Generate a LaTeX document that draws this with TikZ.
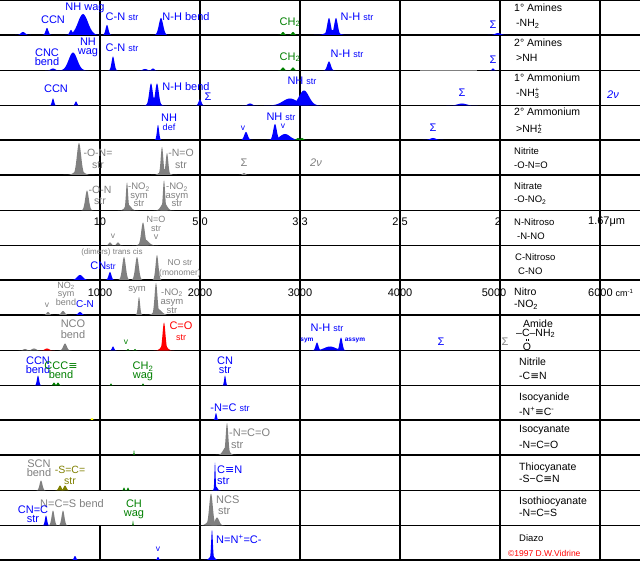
\documentclass[tikz,border=0pt]{standalone}
\usepackage{fontspec}
\setmainfont{Liberation Sans}
\newfontfamily\djv{DejaVu Sans}
\definecolor{dgreen}{RGB}{0,128,0}
\definecolor{olv}{RGB}{128,128,0}
\definecolor{gry}{RGB}{128,128,128}
\definecolor{ylw}{RGB}{255,255,0}
\newcommand\pk[5]{\fill[#5] plot[domain={#1-2.6*#4}:{#1+2.6*#4},samples=31] (\x,{#2-#3*exp(-((\x-#1)/#4)*((\x-#1)/#4))}) -- cycle;}
\newcommand\eqv{{\djv ≡}}
\begin{document}
\begin{tikzpicture}[x=1pt,y=-1pt,
  grid/.style={line width=1.5pt,black},
  lab/.style={inner sep=0pt,font=\fontsize{11}{9}\selectfont,align=center},
  smf/.style={inner sep=0pt,font=\fontsize{8.5}{8.5}\selectfont,align=center},
  tiny/.style={inner sep=0pt,font=\bfseries\fontsize{6.5}{6.5}\selectfont},
  rowl/.style={inner sep=0pt,font=\fontsize{10.5}{10.5}\selectfont,anchor=west},
  rown/.style={inner sep=0pt,font=\fontsize{9.5}{9.5}\selectfont,anchor=west},
  axl/.style={inner sep=0pt,font=\fontsize{11}{11}\selectfont}]
\useasboundingbox (0,0) rectangle (640,561);
\fill[white] (0,0) rectangle (640,561);
% horizontal grid lines
\foreach \yy in {0.75,35,70.5,105.5,140,175,210.5,245.5,280,315,350.5,385.5,420,455,490.5,525.5,560}
  \draw[grid] (0,\yy) -- (640,\yy);
\draw[line width=1.5pt,gry] (420,70.5) -- (477,70.5);
% vertical grid lines
\draw[grid] (100,0) -- (100,490.5) (100,525.5) -- (100,561);
\foreach \xx in {200,300,400,500,600}
  \draw[grid] (\xx,0) -- (\xx,561);
% ---- Row 1: 1 Amines
\pk{23}{35}{3}{3}{blue}
\pk{47}{35}{7}{2}{blue}
\pk{83}{35}{21}{7}{blue}
\pk{71}{35}{5}{2}{blue}
\pk{107}{35}{10}{2}{blue}
\pk{161}{35}{17}{3}{blue}
\pk{283}{35}{3}{2}{dgreen}
\pk{293}{35}{3}{2}{dgreen}
\pk{329}{35}{17}{2.5}{blue}
\pk{336}{35}{17}{2.5}{blue}
\pk{332}{35}{5}{7}{blue}
\pk{498}{35}{2}{4}{blue}
% ---- Row 2
\pk{53}{70.5}{2}{3}{blue}
\pk{73}{70.5}{18}{6}{blue}
\pk{113}{70.5}{14}{2}{blue}
\pk{145}{70.5}{1.5}{3}{blue}
\pk{153}{70.5}{2}{2}{blue}
\pk{283}{70.5}{3}{2}{dgreen}
\pk{293}{70.5}{3}{2}{dgreen}
\pk{329}{70.5}{9}{2.5}{blue}
\pk{493}{70.5}{2}{1.5}{blue}
% ---- Row 3
\pk{53}{105.5}{7}{1.5}{blue}
\pk{76}{105.5}{4}{1.5}{blue}
\pk{151}{105.5}{22}{2.5}{blue}
\pk{157}{105.5}{22}{2.5}{blue}
\pk{154}{105.5}{8}{5}{blue}
\pk{200}{105.5}{6}{2}{blue}
\pk{250}{105.5}{2}{3}{blue}
\pk{304}{105.5}{15}{7}{blue}
\pk{290}{105.5}{7}{10}{blue}
\pk{462}{105.5}{2}{6}{blue}
% ---- Row 4
\pk{158}{140}{15}{1.5}{blue}
\pk{246}{140}{8}{2.5}{blue}
\pk{275}{140}{16}{2.5}{blue}
\pk{285}{140}{6}{7}{blue}
\pk{298}{140}{2}{2}{dgreen}
\pk{302}{140}{2}{2}{dgreen}
\pk{433}{140}{2}{4}{blue}
% ---- Row 5 Nitrite
\pk{79}{175}{32}{3}{gry}
\pk{79}{175}{5}{6}{gry}
\pk{162}{175}{28}{1.8}{gry}
\pk{167}{175}{22}{1.8}{gry}
\pk{164}{175}{6}{5}{gry}
\pk{244}{175}{2}{2}{gry}
% ---- Row 6 Nitrate
\pk{87}{210.5}{20}{2.5}{gry}
\pk{127}{210.5}{28}{1.5}{gry}
\pk{128}{210.5}{6}{4}{gry}
\pk{164}{210.5}{30}{1.5}{gry}
\pk{164}{210.5}{8}{4}{gry}
% ---- Row 7 N-Nitroso
\pk{110}{245.5}{3}{2}{gry}
\pk{118}{245.5}{3}{2}{gry}
\pk{143}{245.5}{23}{2.5}{gry}
\pk{145}{245.5}{6}{5}{gry}
% ---- Row 8 C-Nitroso
\pk{80}{280}{5}{4}{blue}
\pk{110}{280}{8}{2}{blue}
\pk{124}{280}{23}{2.5}{gry}
\pk{137}{280}{23}{2.5}{gry}
\pk{157}{280}{25}{2}{gry}
% ---- Row 9 Nitro
\pk{48}{315}{3}{2}{gry}
\pk{63}{315}{4}{2.5}{gry}
\pk{80}{315}{3}{2.5}{blue}
\pk{139}{315}{18}{1.5}{gry}
\pk{156}{315}{32}{2}{gry}
\pk{158}{315}{6}{5}{gry}
% ---- Row 10 Amide
\pk{25}{350.5}{1.5}{2.5}{gry}
\pk{34}{350.5}{2}{3}{gry}
\pk{47}{350.5}{2}{3}{red}
\pk{65}{350.5}{7}{2.5}{gry}
\pk{113}{350.5}{4}{1.5}{blue}
\pk{128}{350.5}{1.5}{1}{dgreen}
\pk{135}{350.5}{1.5}{1}{dgreen}
\pk{164}{350.5}{28}{2}{red}
\pk{164}{350.5}{6}{4}{red}
\pk{317}{350.5}{8}{2}{blue}
\pk{341}{350.5}{13}{2}{blue}
\pk{330}{350.5}{4}{8}{blue}
% ---- Row 11 Nitrile
\pk{38}{385.5}{10}{1.5}{blue}
\pk{54}{385.5}{3}{1.5}{dgreen}
\pk{58}{385.5}{3}{1.5}{dgreen}
\pk{111}{385.5}{2}{1}{dgreen}
\pk{143}{385.5}{2}{1}{dgreen}
\pk{225}{385.5}{10}{1.2}{blue}
% ---- Row 12 Isocyanide
\pk{92}{420}{2}{1}{ylw}
\pk{216}{420}{7}{1.2}{blue}
% ---- Row 13 Isocyanate
\pk{134}{455}{5}{0.5}{dgreen}
\pk{227}{455}{32}{1.8}{gry}
\pk{226}{455}{8}{4}{gry}
% ---- Row 14 Thiocyanate
\pk{41}{490.5}{10}{2}{gry}
\pk{60}{490.5}{5}{2}{olv}
\pk{65}{490.5}{5}{2}{olv}
\pk{124}{490.5}{3}{1}{dgreen}
\pk{128}{490.5}{3}{1}{dgreen}
\pk{215}{490.5}{28}{0.8}{blue}
\pk{216}{490.5}{4}{2}{blue}
% ---- Row 15 Isothiocyanate
\pk{46}{525.5}{10}{1.5}{blue}
\pk{53}{525.5}{15}{2}{gry}
\pk{63}{525.5}{15}{2}{gry}
\pk{133}{525.5}{5}{0.5}{dgreen}
\pk{211}{525.5}{32}{2.5}{gry}
\pk{217}{525.5}{8}{3}{gry}
\pk{211}{525.5}{6}{5}{gry}
% ---- Row 16 Diazo
\pk{75}{560}{4}{1.5}{blue}
\pk{158}{560}{3}{1.2}{blue}
\pk{212}{560}{30}{1.2}{blue}
\pk{212}{560}{5}{3}{blue}
% ================= LABELS
% Row 1
\node[lab,text=blue] (r1a) at (53,20) {CCN};
\node[lab,text=blue] (r1b) at (85,8) {NH wag};
\node[lab,text=blue] (r1c) at (122,17) {C-N {\fontsize{9}{9}\selectfont str}};
\node[lab,text=blue] (r1d) at (186,17) {N-H bend};
\node[lab,text=dgreen] (r1e) at (290,22) {CH\textsubscript{2}};
\node[lab,text=blue] (r1f) at (357,17) {N-H {\fontsize{9}{9}\selectfont str}};
\node[lab,text=blue] (r1g) at (493,25) {Σ};
\node[rowl] (r1h) at (514,7.5) {1° Amines};
\node[rowl] (r1i) at (516,24) {-NH\textsubscript{2}};
% Row 2
\node[lab,text=blue] (r2a) at (47,57.5) {CNC\\bend};
\node[lab,text=blue] (r2b) at (88,47.5) {NH\\wag};
\node[lab,text=blue] (r2c) at (122,48) {C-N {\fontsize{9}{9}\selectfont str}};
\node[lab,text=dgreen] (r2d) at (290,57) {CH\textsubscript{2}};
\node[lab,text=blue] (r2e) at (347,54) {N-H {\fontsize{9}{9}\selectfont str}};
\node[lab,text=blue] (r2f) at (493,60) {Σ};
\node[rowl] (r2g) at (514,42.5) {2° Amines};
\node[rowl] (r2h) at (516,58) {>NH};
% Row 3
\node[lab,text=blue] (r3a) at (56,89) {CCN};
\node[lab,text=blue] (r3b) at (186,87) {N-H bend};
\node[lab,text=blue] (r3c) at (208,97) {Σ};
\node[lab,text=blue] (r3d) at (302,81) {NH {\fontsize{9}{9}\selectfont str}};
\node[lab,text=blue] (r3e) at (462,93) {Σ};
\node[lab,text=blue] (r3f) at (613,95) {\textit{2ν}};
\node[rowl] (r3g) at (514,78) {1° Ammonium};
\node[rowl] (r3h) at (516,93.5) {-NH\rlap{\textsuperscript{+}}\textsubscript{3}};
% Row 4
\node[lab,text=blue] (r4a) at (169,122) {NH\\{\fontsize{9}{9}\selectfont def}};
\node[smf,text=blue] (r4b) at (243,128) {v};
\node[lab,text=blue] (r4c) at (281,117) {NH {\fontsize{9}{9}\selectfont str}};
\node[smf,text=blue] (r4d) at (283,126) {v};
\node[lab,text=blue] (r4e) at (433,128) {Σ};
\node[rowl] (r4f) at (514,112) {2° Ammonium};
\node[rowl] (r4g) at (516,129) {>NH\rlap{\textsuperscript{+}}\textsubscript{2}};
% Row 5
\node[lab,text=gry,font=\fontsize{10.5}{12}\selectfont] (r5a) at (98,159) {-O-N=\\str};
\node[lab,text=gry,font=\fontsize{10.5}{12}\selectfont] (r5b) at (181,159) {-N=O\\str};
\node[lab,text=gry] (r5c) at (244,163) {Σ};
\node[lab,text=gry] (r5d) at (316,163) {\textit{2ν}};
\node[rown] (r5e) at (514,151) {Nitrite};
\node[rown] (r5f) at (514,165) {-O-N=O};
% Row 6
\node[lab,text=gry,font=\fontsize{10.5}{11}\selectfont] (r6a) at (100,195.5) {-O-N\\str};
\node[lab,text=gry,font=\fontsize{9.5}{8.6}\selectfont] (r6b) at (139,195) {-NO\textsubscript{2}\\sym\\str};
\node[lab,text=gry,font=\fontsize{9.5}{8.6}\selectfont] (r6c) at (177,195) {-NO\textsubscript{2}\\asym\\str};
\node[rown] (r6d) at (514,186) {Nitrate};
\node[rown] (r6e) at (514,200) {-O-NO\textsubscript{2}};
% Row 7
\node[axl] (r7a) at (100,222) {10};
\node[axl] (r7b) at (200,222) {5.0};
\node[axl] (r7c) at (300,222) {3.3};
\node[axl] (r7d) at (400,222) {2.5};
\node[axl] (r7e) at (498,222) {2};
\node[axl,anchor=west] (r7f) at (588,222) {1.67μm};
\node[smf,text=gry] (r7g) at (113,236) {v};
\node[lab,text=gry,font=\fontsize{9}{8.6}\selectfont] (r7h) at (156,228) {N=O\\str\\v};
\node[rown] (r7i) at (514,222) {N-Nitroso};
\node[rown] (r7j) at (517,236) {-N-NO};
% Row 8
\node[smf,text=gry,font=\fontsize{8}{8}\selectfont] (r8a) at (112,252) {(dimers) trans cis};
\node[lab,text=blue] (r8b) at (103,266) {CN{\fontsize{8.5}{8.5}\selectfont str}};
\node[lab,text=gry,font=\fontsize{8.5}{10.5}\selectfont] (r8c) at (180,268.5) {NO str\\(monomer)};
\node[rown] (r8d) at (515,257) {C-Nitroso};
\node[rown] (r8e) at (518,271) {C-NO};
% Row 9
\node[axl] (r9a) at (100,293) {1000};
\node[axl] (r9b) at (200,293) {2000};
\node[axl] (r9c) at (300,293) {3000};
\node[axl] (r9d) at (400,293) {4000};
\node[axl] (r9e) at (494,293) {5000};
\node[axl,anchor=west] (r9f) at (588,293) {6000 {\fontsize{9}{9}\selectfont cm\textsuperscript{-1}}};
\node[lab,text=gry,font=\fontsize{9}{7.9}\selectfont] (r9g) at (66,294) {NO\textsubscript{2}\\sym\\bend};
\node[smf,text=gry] (r9h) at (47,305) {v};
\node[lab,text=blue,font=\fontsize{10}{10}\selectfont] (r9i) at (85,304) {C-N};
\node[lab,text=gry,font=\fontsize{9.5}{9.5}\selectfont] (r9j) at (137,290) {sym};
\node[lab,text=gry,font=\fontsize{9.5}{8.9}\selectfont] (r9k) at (172,301) {-NO\textsubscript{2}\\asym\\str};
\node[rowl] (r9l) at (514,292) {Nitro};
\node[rowl] (r9m) at (514,305) {-NO\textsubscript{2}};
% Row 10
\node[lab,text=gry,font=\fontsize{11}{11}\selectfont] (r10a) at (73,329.5) {NCO\\bend};
\node[smf,text=dgreen] (r10b) at (126,342) {v};
\node[lab,text=red,font=\fontsize{11}{11}\selectfont] (r10c) at (181,331.5) {C=O\\{\fontsize{9}{9}\selectfont str}};
\node[lab,text=blue] (r10d) at (327,328) {N-H {\fontsize{9}{9}\selectfont str}};
\node[tiny,text=blue] (r10e) at (307,340) {sym};
\node[tiny,text=blue] (r10f) at (355,340) {assym};
\node[lab,text=blue] (r10g) at (441,342) {Σ};
\node[lab,text=gry] (r10h) at (505,342) {Σ};
\node[rowl,anchor=center] (r10i) at (538,323.5) {Amide};
\node[rowl] (r10j) at (516,333.5) {--C–NH\textsubscript{2}};
\node[rowl,anchor=center] (r10k) at (527,346.5) {O};
\draw[line width=0.6pt] (526.3,339) -- (526.3,341.5) (528.3,339) -- (528.3,341.5);
% Row 11
\node[lab,text=blue] (r11a) at (38,365.5) {CCN\\bend};
\node[lab,text=dgreen] (r11b) at (61,370.5) {CCC\eqv\\bend};
\node[lab,text=dgreen] (r11c) at (143,371.5) {CH\textsubscript{2}\\wag};
\node[lab,text=blue] (r11d) at (225,365.5) {CN\\str};
\node[rowl] (r11e) at (519,362) {Nitrile};
\node[rowl] (r11f) at (519,376) {-C\eqv N};
% Row 12
\node[lab,text=blue] (r12a) at (230,408) {-N=C {\fontsize{9}{9}\selectfont str}};
\node[rowl] (r12b) at (519,398) {Isocyanide};
\node[rowl] (r12c) at (519,411) {-N\textsuperscript{+}\eqv C\textsuperscript{-}};
% Row 13
\node[lab,text=gry,align=left,anchor=west,font=\fontsize{11}{12}\selectfont] (r13a) at (229,438.5) {-N=C=O\\ \,str};
\node[rowl] (r13b) at (519,430) {Isocyanate};
\node[rowl] (r13c) at (519,445) {-N=C=O};
% Row 14
\node[lab,text=gry] (r14a) at (39,468.5) {SCN\\bend};
\node[lab,text=olv,font=\fontsize{10.5}{11}\selectfont] (r14b) at (70,475.5) {-S=C=\\str};
\node[lab,text=blue,align=left,anchor=west,font=\fontsize{11}{11}\selectfont] (r14c) at (217,475.5) {C\eqv N\\str};
\node[rowl] (r14d) at (519,467.5) {Thiocyanate};
\node[rowl] (r14e) at (519,478.5) {-S−C\eqv N};
% Row 15
\node[lab,text=gry,fill=white,inner sep=1pt] (r15a) at (72,504) {N=C=S bend};
\node[lab,text=blue] (r15b) at (33,514.5) {CN=C\\str};
\node[lab,text=dgreen] (r15c) at (134,509.5) {CH\\wag};
\node[lab,text=gry,align=left,anchor=west,font=\fontsize{11}{11}\selectfont] (r15d) at (216,505.5) {NCS\\ \,str};
\node[rowl] (r15e) at (519,501.5) {Isothiocyanate};
\node[rowl] (r15f) at (519,512.5) {-N=C=S};
% Row 16
\node[smf,text=blue] (r16a) at (158,549) {v};
\node[lab,text=blue,anchor=west] (r16b) at (216,539) {N=N\textsuperscript{+}=C-};
\node[rown] (r16c) at (519,538) {Diazo};
\node[inner sep=0pt,anchor=west,text=red,font=\fontsize{8.5}{8.5}\selectfont] (r16d) at (508,553) {©1997 D.W.Vidrine};
\end{tikzpicture}
\end{document}
